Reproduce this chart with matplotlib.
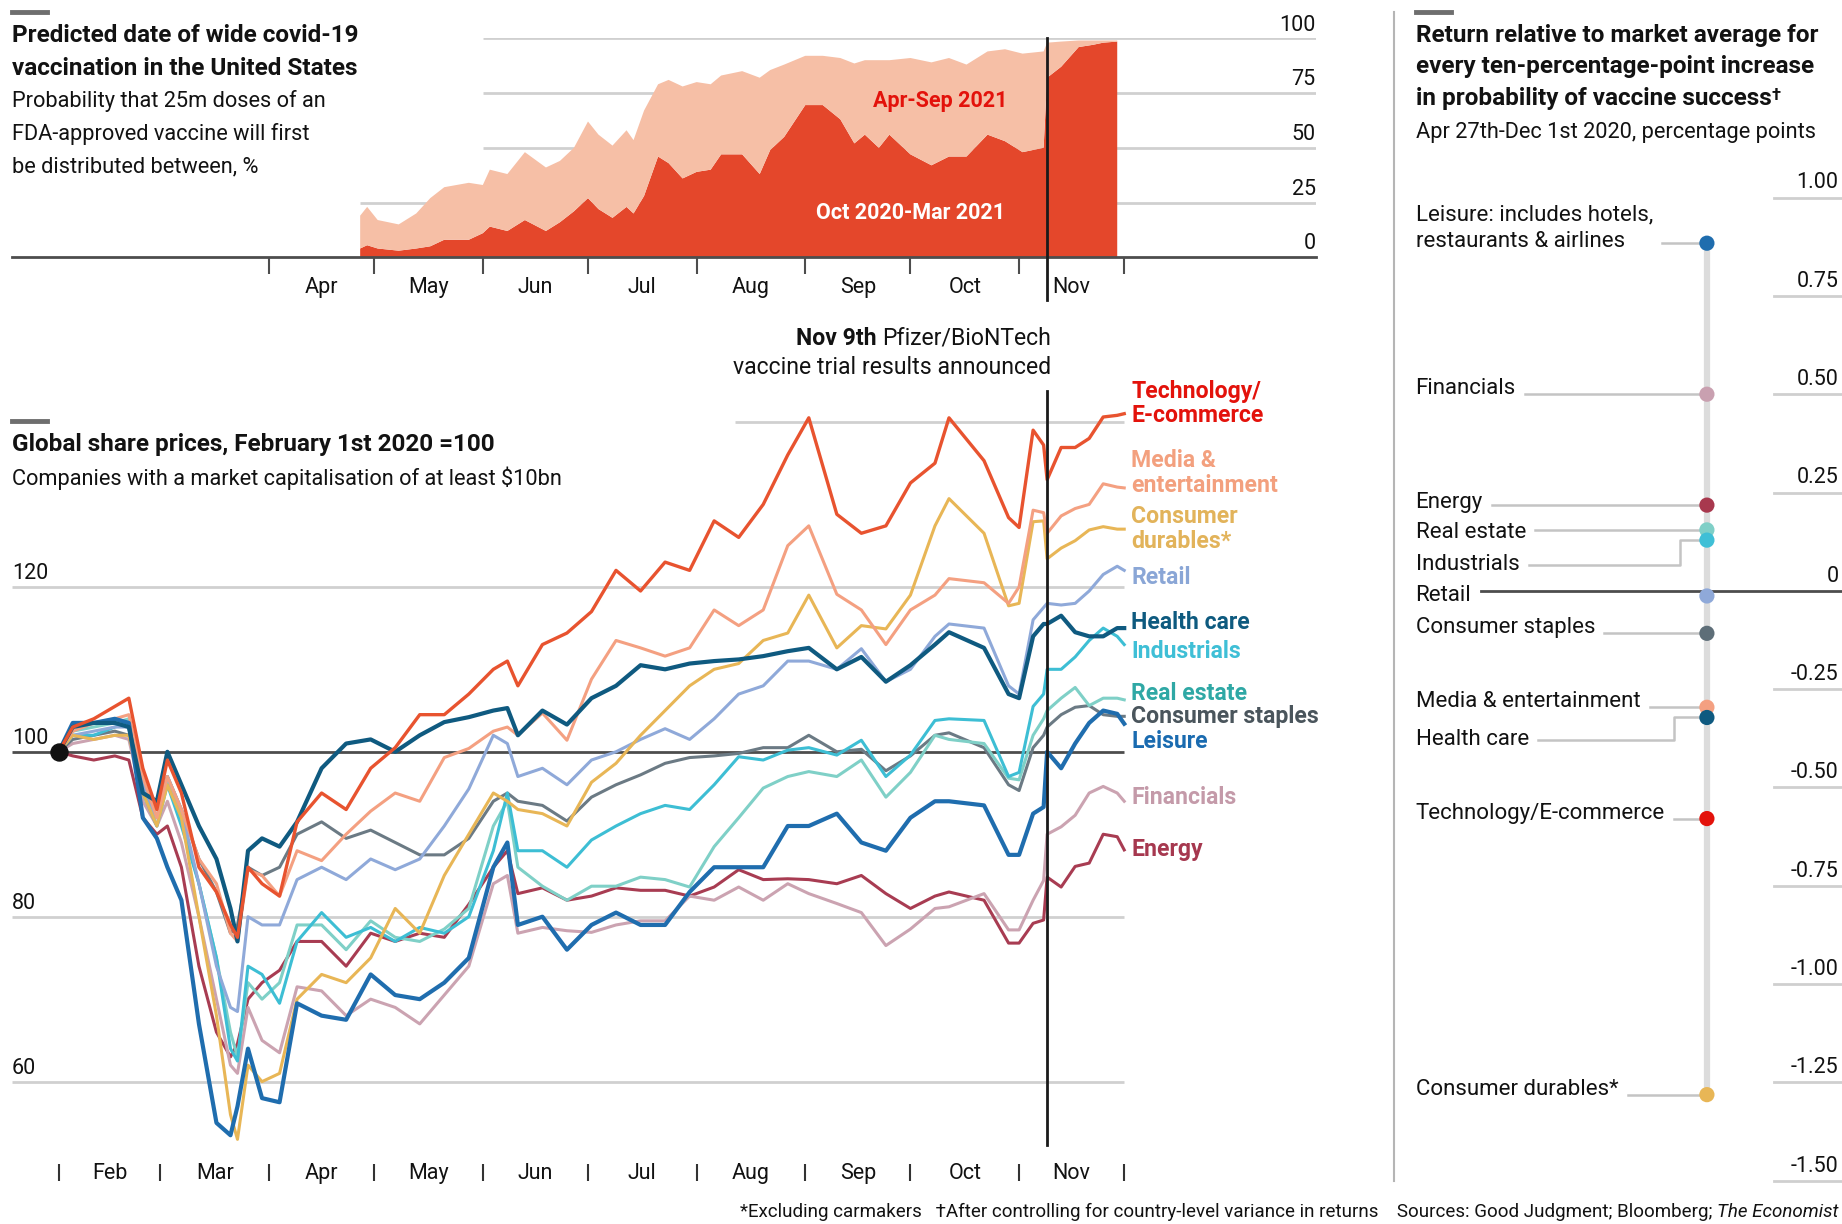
import matplotlib
matplotlib.use("Agg")
import matplotlib.pyplot as plt
import matplotlib.dates as mdates
from matplotlib.lines import Line2D
import pandas as pd

plt.rcParams["font.family"] = ["Roboto", "DejaVu Sans"]

# ---------------- top panel: probability of wide vaccination, % ----------------
vax_dates = pd.to_datetime([
    "2020-04-27", "2020-04-29", "2020-05-02", "2020-05-08", "2020-05-13", "2020-05-17",
    "2020-05-21", "2020-05-28", "2020-06-01", "2020-06-03", "2020-06-08", "2020-06-13",
    "2020-06-19", "2020-06-23", "2020-06-27", "2020-07-01", "2020-07-04", "2020-07-08",
    "2020-07-12", "2020-07-14", "2020-07-17", "2020-07-21", "2020-07-24", "2020-07-28",
    "2020-08-01", "2020-08-05", "2020-08-08", "2020-08-14", "2020-08-19", "2020-08-22",
    "2020-08-26", "2020-09-01", "2020-09-06", "2020-09-11", "2020-09-15", "2020-09-18",
    "2020-09-22", "2020-09-25", "2020-10-01", "2020-10-07", "2020-10-12", "2020-10-17",
    "2020-10-23", "2020-10-28", "2020-11-02", "2020-11-08", "2020-11-09", "2020-11-13",
    "2020-11-18", "2020-11-22", "2020-11-25", "2020-11-29"])
oct20_mar21 = [4, 5.5, 4, 3, 4, 5, 8, 8, 11, 14, 12, 17, 12, 16, 21, 27, 22, 18, 23, 20,
               28, 46, 43, 36, 39, 40, 47, 47, 38, 49, 55, 69.5, 69.5, 63, 52, 56, 50, 56,
               47, 42, 46, 46, 56, 53, 48, 50, 82, 87, 96, 97, 98, 98.5]
apr21_sep21 = [15, 17.5, 13, 12, 16, 22, 24, 26, 22, 26, 26, 31, 29, 28, 29, 35, 34, 33,
               35, 33.5, 39, 33, 38, 42, 41, 39, 36, 38, 44, 36.5, 33, 22.5, 22.5, 28, 36.5,
               34, 40, 34, 44, 47, 45, 42, 38, 42, 45, 44, 16, 11.5, 3, 2, 1, 0.5]

# ---------------- bottom panel: share prices, Feb 1st 2020 = 100 ----------------
price_dates = pd.to_datetime([
    "2020-02-01", "2020-02-05", "2020-02-11", "2020-02-17", "2020-02-21", "2020-02-25",
    "2020-02-29", "2020-03-03", "2020-03-07", "2020-03-12", "2020-03-17", "2020-03-21",
    "2020-03-23", "2020-03-26", "2020-03-30", "2020-04-04", "2020-04-09", "2020-04-16",
    "2020-04-23", "2020-04-30", "2020-05-07", "2020-05-14", "2020-05-21", "2020-05-28",
    "2020-06-04", "2020-06-08", "2020-06-11", "2020-06-18", "2020-06-25", "2020-07-02",
    "2020-07-09", "2020-07-16", "2020-07-23", "2020-07-30", "2020-08-06", "2020-08-13",
    "2020-08-20", "2020-08-27", "2020-09-02", "2020-09-10", "2020-09-17", "2020-09-24",
    "2020-10-01", "2020-10-08", "2020-10-12", "2020-10-22", "2020-10-29", "2020-11-01",
    "2020-11-05", "2020-11-08", "2020-11-09", "2020-11-13", "2020-11-17", "2020-11-21",
    "2020-11-25", "2020-11-29", "2020-12-01"])
technology = [100, 103, 104, 105.5, 106.5, 98, 93, 99, 95, 86, 83, 79, 77.5, 86, 84, 82.5,
              91.5, 95, 93, 98, 100.5, 104.5, 104.5, 107, 110, 111, 108, 113, 114.4, 117,
              122, 119.5, 123, 122, 128, 126, 130, 136, 140.5, 128.8, 126.5, 127.4, 132.6,
              135, 140.5, 135.3, 128.4, 127.2, 139, 137.2, 133, 136.9, 136.9, 138, 140.6,
              140.8, 141]
media = [100, 102.5, 103.5, 104, 104.5, 97, 92, 97, 93, 87, 84, 78, 77, 85.7, 85, 82.5, 88,
         86.8, 90, 92.8, 95, 94, 99.3, 100.4, 102.5, 103, 102, 104.7, 101.4, 108.8, 113.5,
         112.6, 111.6, 112.6, 117.2, 115.3, 117.2, 125, 127.4, 119.1, 117.2, 113, 117.2, 119,
         121, 120.5, 118, 120, 129.3, 129, 126.5, 128.6, 129.5, 130, 132.5, 132.1, 132]
consumer_durables = [100, 102, 101.5, 102, 102, 95, 91, 96, 92, 80, 68, 56, 53, 62, 60, 61,
                     70, 73, 72, 75, 81, 78, 85, 90, 95, 94, 93, 92.5, 91, 96.3, 98.6, 102,
                     105, 108, 110, 110.7, 113.5, 114.4, 119, 112.6, 115.3, 114.9, 119, 127.4,
                     130.7, 126.5, 117.7, 118, 127.9, 128, 123.4, 124.7, 125.6, 126.9, 127.3,
                     127, 127]
retail = [100, 102, 102.5, 103, 103, 96, 92, 97, 93, 84, 74, 69, 68.5, 80, 79, 79, 84.5, 86,
          84.5, 87, 85.7, 87, 91, 95.5, 102, 101, 97, 98, 96, 99, 100, 101.5, 102.8, 101.5,
          104, 107, 108, 111, 111, 110, 112.5, 108.5, 110, 114, 115.5, 115, 108, 107, 116,
          117.5, 118, 117.8, 118, 119.5, 121.5, 122.5, 122]
health_care = [100, 103, 103.5, 103.5, 103, 95, 94, 100, 96, 91, 87, 81, 77, 88, 89.5, 88.5,
               91.5, 98, 101, 101.5, 100, 102, 103.6, 104.2, 105, 105.3, 102, 105, 103.3,
               106.5, 108, 110.5, 110, 110.7, 111, 111.2, 111.6, 112.2, 112.6, 110, 111.5,
               108.5, 110.5, 113, 114.5, 112.6, 107, 106.5, 114, 115.5, 115.5, 116.5, 114.5,
               114, 114, 115, 115]
industrials = [100, 102, 102, 103, 103.5, 95, 91, 96, 91, 84, 75, 64, 62.5, 74, 73, 69.5, 77,
               80.5, 77.5, 78.7, 77, 78.7, 78, 80, 88, 95, 88, 88, 86, 89.3, 91, 92.5, 93.5,
               93, 96, 99.4, 99, 100.2, 100.5, 99.6, 101.4, 97, 99.6, 103.8, 104, 103.8, 97,
               97.5, 105.5, 107, 110, 110, 111.5, 113.5, 115, 114, 113]
real_estate = [100, 102.5, 103, 103.5, 104, 96, 92, 97, 92, 84, 75, 66, 63, 72, 70, 72, 79,
               79, 76, 79.5, 77.5, 77, 78.5, 81, 91, 94, 86, 83.7, 82, 83.7, 83.7, 84.8, 84.5,
               83.6, 88.5, 92, 95.6, 97, 97.6, 97, 99, 94.5, 97.5, 102, 101.5, 101, 96.8, 96.6,
               102, 104, 105, 106.5, 107.8, 105.6, 106.5, 106.5, 106.3]
consumer_staples = [100, 101.5, 102, 102.5, 102, 96, 92, 97, 93, 87, 83, 78, 79, 86, 85, 86,
                    90, 91.5, 89.5, 90.5, 89, 87.5, 87.5, 89.5, 94, 95, 94, 93.5, 91.6, 94.5,
                    96, 97.2, 98.6, 99.3, 99.5, 99.8, 100.5, 100.5, 102, 100, 100.3, 97.7,
                    99.5, 102, 102.3, 100.5, 96, 95.3, 100.5, 102, 103, 104.5, 105.4, 105.6,
                    104.5, 104.3, 104.3]
leisure = [100, 103.5, 103.5, 104, 103.5, 92, 89.5, 86, 82, 67, 55, 53.5, 57, 64, 58, 57.5,
           69.5, 68, 67.5, 73, 70.5, 70, 72, 75, 86, 89, 79, 80, 76, 79, 80.5, 79, 79, 83, 86,
           86, 86, 91, 91, 92.5, 89, 88, 92, 94, 94, 93.5, 87.5, 87.5, 92.5, 93.3, 100, 98,
           101, 103.5, 105, 104.6, 103.4]
financials = [100, 101, 101.5, 102, 101.5, 94, 91, 94, 89, 80, 70, 62, 61, 69, 65, 63.5, 71.5,
              71, 68, 70, 69, 67, 70.5, 74, 84, 85, 78, 78.7, 78.3, 78.1, 79, 79.5, 79.5, 82.5,
              82, 83.6, 82, 84, 82.8, 81.6, 80.5, 76.5, 78.5, 81, 81.2, 82.8, 78.4, 78.4, 82,
              84.4, 90, 90.9, 92.3, 95, 95.8, 95, 94]
energy = [100, 99.5, 99, 99.5, 99, 92, 90, 91, 86, 74, 66, 63, 64.6, 70, 72, 73.5, 77, 77, 74,
          78, 77, 78, 77.5, 81.5, 86, 88, 82.8, 83.5, 82, 82.5, 83.5, 83.2, 83.2, 82.5, 83.6,
          85.7, 84.5, 84.6, 84.5, 84, 85, 82.8, 81, 82.5, 83, 82, 76.8, 76.8, 79.2, 79.6, 84.8,
          83.6, 86.1, 86.5, 90, 89.7, 88.1]

# ---------------- right panel: relative return per 10pp of vaccine probability ----------------
beta_names = ["Leisure: includes hotels,\nrestaurants & airlines", "Financials", "Energy",
              "Real estate", "Industrials", "Retail", "Consumer staples",
              "Media & entertainment", "Health care", "Technology/E-commerce",
              "Consumer durables*"]
beta_values = [0.884, 0.50, 0.218, 0.155, 0.129, -0.013, -0.108, -0.296, -0.322, -0.579, -1.281]
beta_colors = ["#1F6DAE", "#C9A0B0", "#A8384E", "#7FCFC7", "#3FBFD6", "#8FA9D9", "#5E6E78",
               "#F4A081", "#0F5A80", "#E3120B", "#E8B656"]

# ---------------- layout (positions measured on a 1568 x 1042 grid) ----------------
W, H = 1568, 1042


def fx(x):
    return x / W


def fy(y):
    return 1 - y / H


def box(x_left, x_right, y_top, y_bottom):
    return [x_left / W, 1 - y_bottom / H, (x_right - x_left) / W, (y_bottom - y_top) / H]


INK = "#121212"
TITLE = 17.5
SUB = 15.7
TICK = 15.5
fig = plt.figure(figsize=(18.42, 12.24), dpi=100)

day0 = mdates.date2num(pd.Timestamp("2020-02-01"))
px_day = (957 - 50) / 304.0
xlim = (day0 - (50 - 10) / px_day, day0 + (1120 - 50) / px_day)
dec1 = mdates.date2num(pd.Timestamp("2020-12-01"))
nov9 = mdates.date2num(pd.Timestamp("2020-11-09"))

# ===== top chart =====
ax1 = fig.add_axes(box(10, 1120, 32.6, 219))
ax1.set_xlim(*xlim)
ax1.set_ylim(0, 100)
for s in ["top", "right", "left"]:
    ax1.spines[s].set_visible(False)
ax1.spines["bottom"].set_color("#4D4D4D")
ax1.spines["bottom"].set_linewidth(2)
ax1.spines["bottom"].set_zorder(4)
ax1.set_yticks([])

ax1.hlines(25, mdates.date2num(vax_dates[0]), xlim[1], color="#D0D0D0", lw=2, zorder=1)
for v in (50, 75, 100):
    ax1.hlines(v, mdates.date2num(pd.Timestamp("2020-06-01")), xlim[1], color="#D0D0D0", lw=2, zorder=1)
ax1.stackplot(vax_dates, oct20_mar21, apr21_sep21, colors=["#E4472B", "#F6BFA6"], lw=0, zorder=2)
for v in (0, 25, 50, 75, 100):
    ax1.annotate(str(v), xy=(1, v), xycoords=("axes fraction", "data"), xytext=(0, 2),
                 textcoords="offset points", ha="right", va="bottom", fontsize=TICK, color=INK)

top_months = pd.date_range("2020-04-01", "2020-12-01", freq="MS")
ax1.set_xticks(mdates.date2num(top_months))
ax1.tick_params(axis="x", which="major", length=12, width=1.5, color="#4D4D4D", labelbottom=False)
top_mid = top_months[:-1] + (top_months[1:] - top_months[:-1]) / 2
ax1.set_xticks(mdates.date2num(top_mid), minor=True)
ax1.set_xticklabels([d.strftime("%b") for d in top_months[:-1]], minor=True)
ax1.tick_params(axis="x", which="minor", length=0, pad=14, labelsize=TICK, labelcolor=INK)
ax1.axvline(nov9, ymin=-(255 - 219) / (219 - 32.6), ymax=1, color="#1A1A1A", lw=2, clip_on=False, zorder=5)

fig.text(fx(800), fy(86), "Apr-Sep 2021", color="#E3120B", fontsize=15.5, fontweight="bold", ha="center", va="center")
fig.text(fx(775), fy(181), "Oct 2020-Mar 2021", color="white", fontsize=15.5, fontweight="bold", ha="center", va="center")

# titles of top chart
for y, line in [(30, "Predicted date of wide covid-19"), (58, "vaccination in the United States")]:
    fig.text(fx(10), fy(y), line, fontsize=TITLE, fontweight="bold", color=INK, va="center")
for y, line in [(86, "Probability that 25m doses of an"), (114, "FDA-approved vaccine will first"),
                (142, "be distributed between, %")]:
    fig.text(fx(10), fy(y), line, fontsize=SUB, color=INK, va="center")

# ===== bottom chart =====
ax2 = fig.add_axes(box(10, 1120, 324.1, 991))
ax2.set_xlim(*xlim)
ax2.set_ylim(50, 145)
for s in ax2.spines.values():
    s.set_visible(False)
ax2.set_yticks([])
for v in (60, 80, 120):
    ax2.hlines(v, xlim[0], dec1, color="#D0D0D0", lw=2, zorder=1)
ax2.hlines(140, mdates.date2num(pd.Timestamp("2020-08-12")), dec1, color="#D0D0D0", lw=2, zorder=1)
ax2.hlines(100, xlim[0], dec1, color="#4D4D4D", lw=2, zorder=1.5)
for v in (60, 80, 100, 120):
    ax2.annotate(str(v), xy=(0, v), xycoords=("axes fraction", "data"), xytext=(0, 2),
                 textcoords="offset points", ha="left", va="bottom", fontsize=TICK, color=INK)

series = [
    ("Energy", energy, "#A83C52", "#A6384F", 2.2, 723),
    ("Financials", financials, "#CBA3B1", "#C49AA9", 2.2, 679),
    ("Consumer staples", consumer_staples, "#6B7A84", "#4A555C", 2.2, 610),
    ("Real estate", real_estate, "#7FD0C7", "#2FA8A5", 2.2, 590),
    ("Industrials", industrials, "#3DBED4", "#3FBFD6", 2.2, 555),
    ("Retail", retail, "#8FA9D9", "#8AA6D6", 2.2, 492),
    ("Consumer\ndurables*", consumer_durables, "#E8B656", "#E2B35A", 2.2, 450.5),
    ("Media &\nentertainment", media, "#F4A081", "#F3A07E", 2.2, 402.5),
    ("Leisure", leisure, "#1F6DAE", "#1A6BB0", 3.0, 631),
    ("Health care", health_care, "#0F5A80", "#0E5A7F", 3.0, 530),
    ("Technology/\nE-commerce", technology, "#E8532F", "#E3120B", 2.4, 343.5),
]
for name, vals, lc, tc, lw, ylab in series:
    ax2.plot(price_dates, vals, color=lc, lw=lw, solid_joinstyle="round", zorder=3)
    fig.text(fx(963), fy(ylab), name, color=tc, fontsize=16.6, fontweight="bold",
             va="center", linespacing=1.08)
ax2.scatter([price_dates[0]], [technology[0]], s=150, color="#111111", zorder=6)

bot_months = pd.date_range("2020-02-01", "2020-12-01", freq="MS")
ax2.set_xticks(mdates.date2num(bot_months))
ax2.tick_params(axis="x", which="major", length=12.5, width=1.5, color="#333333", labelbottom=False)
bot_mid = bot_months[:-1] + (bot_months[1:] - bot_months[:-1]) / 2
ax2.set_xticks(mdates.date2num(bot_mid), minor=True)
ax2.set_xticklabels([d.strftime("%b") for d in bot_months[:-1]], minor=True)
ax2.tick_params(axis="x", which="minor", length=0, pad=-1, labelsize=TICK, labelcolor=INK)
ax2.axvline(nov9, ymin=(991 - 975) / (991 - 324.1), ymax=(991 - 333) / (991 - 324.1),
            color="#1A1A1A", lw=2, zorder=5)

fig.text(fx(10), fy(378), "Global share prices, February 1st 2020 =100", fontsize=TITLE,
         fontweight="bold", color=INK, va="center")
fig.text(fx(10), fy(407), "Companies with a market capitalisation of at least \\$10bn",
         fontsize=SUB, color=INK, va="center")

t_nov = fig.text(fx(895), fy(288), "Pfizer/BioNTech", ha="right", va="center", fontsize=16.6, color=INK)
ax2.annotate("Nov 9th ", xy=(0, 0), xycoords=t_nov, ha="right", va="bottom", fontsize=16.6,
             fontweight="bold", color=INK, annotation_clip=False)
fig.text(fx(895), fy(313), "vaccine trial results announced", ha="right", va="center", fontsize=16.6, color=INK)

# ===== right panel =====
for y, line in [(30, "Return relative to market average for"),
                (57, "every ten-percentage-point increase")]:
    fig.text(fx(1205), fy(y), line, fontsize=TITLE, fontweight="bold", color=INK, va="center")
t_last = fig.text(fx(1205), fy(84), "in probability of vaccine success", fontsize=TITLE,
                  fontweight="bold", color=INK, va="center")
ax2.annotate("\u2020", xy=(1, 0.95), xycoords=t_last, ha="left", va="top", fontsize=12,
             fontweight="bold", color=INK, annotation_clip=False)
fig.text(fx(1205), fy(113), "Apr 27th-Dec 1st 2020, percentage points", fontsize=SUB, color=INK, va="center")

ax_r = fig.add_axes(box(1187, 1568, 168.2, 1005.2))
ax_r.set_xlim(1187, 1568)
ax_r.set_ylim(-1.5, 1.0)
ax_r.axis("off")

DOT_X = 1453
for v in (1.0, 0.75, 0.5, 0.25, -0.25, -0.5, -0.75, -1.0, -1.25, -1.5):
    ax_r.plot([1510, 1568], [v, v], color="#CFCFCF", lw=2, clip_on=False, zorder=1)
for v, lab in [(1.0, "1.00"), (0.75, "0.75"), (0.5, "0.50"), (0.25, "0.25"), (0, "0"),
               (-0.25, "-0.25"), (-0.5, "-0.50"), (-0.75, "-0.75"), (-1.0, "-1.00"),
               (-1.25, "-1.25"), (-1.5, "-1.50")]:
    ax_r.annotate(lab, xy=(1565, v), xytext=(0, 3), textcoords="offset points", ha="right",
                  va="bottom", fontsize=TICK, color=INK, annotation_clip=False)

ax_r.plot([DOT_X, DOT_X], [min(beta_values), max(beta_values)], color="#DCDCDC", lw=4.5, zorder=1,
          solid_capstyle="butt")

label_shift = [-0.009, 0, -0.008, -0.021, -0.075, -0.014, 0, 0, -0.07, 0, 0]
leader_kind = ["line", "line", "line", "line", "elbow", "axis", "line", "line", "elbow", "line", "line"]
elbow_x = {"Industrials": 1430, "Health care": 1425}

labels = []
for name, v, shift in zip(beta_names, beta_values, label_shift):
    t = ax_r.text(1205, v + shift, name, fontsize=16, color=INK, va="baseline", linespacing=1.35)
    labels.append(t)

fig.canvas.draw()
to_data = ax_r.transData.inverted()
LEAD = "#C4C4C4"
for t, name, v, shift, kind in zip(labels, beta_names, beta_values, label_shift, leader_kind):
    bb = t.get_window_extent()
    x_start = to_data.transform((bb.x1, bb.y0))[0] + 8
    if kind == "line":
        ax_r.plot([x_start, DOT_X], [v, v], color=LEAD, lw=1.8, zorder=1)
    elif kind == "elbow":
        yb = v + shift + 0.012
        ex = elbow_x[name]
        ax_r.plot([x_start, ex, ex, DOT_X], [yb, yb, v, v], color=LEAD, lw=1.8, zorder=1)
    else:
        ax_r.plot([x_start, 1568], [0, 0], color="#4D4D4D", lw=2, zorder=1, clip_on=False)

for v, c in zip(beta_values, beta_colors):
    ax_r.scatter([DOT_X], [v], s=120, color=c, zorder=3, edgecolors="none")

# decorations: section markers, separator
for x in (10, 1205):
    fig.add_artist(Line2D([fx(x), fx(x + 30)], [fy(10), fy(10)], color="#6E6E6E", lw=3.5))
fig.add_artist(Line2D([fx(10), fx(40)], [fy(358), fy(358)], color="#6E6E6E", lw=3.5))
fig.add_artist(Line2D([fx(1187), fx(1187)], [fy(10), fy(1005)], color="#B5B5B5", lw=1.5))

# footer
t_econ = fig.text(fx(1565), fy(1032), "The Economist", style="italic", ha="right", va="center",
                  fontsize=13.5, color=INK)
ax2.annotate("*Excluding carmakers   \u2020After controlling for country-level variance in returns"
             "    Sources: Good Judgment; Bloomberg; ", xy=(0, 0), xycoords=t_econ, ha="right",
             va="bottom", fontsize=13.5, color=INK, annotation_clip=False)

fig.savefig("out.png", dpi=100, facecolor="white")
